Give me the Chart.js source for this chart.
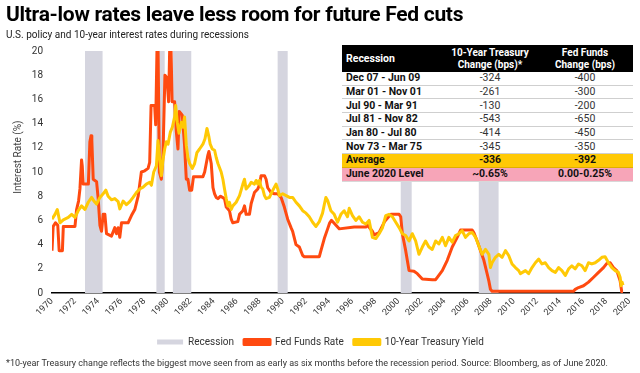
<!DOCTYPE html>
<html>
<head>
<meta charset="utf-8">
<script src="https://cdn.jsdelivr.net/npm/chart.js@4/dist/chart.umd.min.js"></script>
<style>
  html, body { margin:0; padding:0; background:#fff; }
  body { width:640px; height:373px; position:relative; overflow:hidden; font-family: Roboto, "Liberation Sans", sans-serif; }
  #c { position:absolute; left:0; top:0; }
  .title { position:absolute; left:6px; top:4px; font-size:21px; line-height:21px; font-weight:700; color:#000; letter-spacing:-0.3px; white-space:nowrap; }
  .subtitle { position:absolute; left:6px; top:30px; font-size:10px; line-height:10px; color:#222; white-space:nowrap; }
  .foot { position:absolute; left:6px; top:359px; font-size:9px; line-height:9px; color:#333; white-space:nowrap; }
  table { position:absolute; left:342px; top:45px; width:291px; border-collapse:collapse; background:#fff; font-size:10.5px; table-layout:fixed; }
  td, th { padding:0; white-space:nowrap; }
  thead th { background:#000; color:#fff; font-weight:700; height:27px; line-height:11.5px; text-align:center; font-size:10px; }
  thead th.first { text-align:left; padding-left:4px; font-size:10.5px; }
  tbody td { height:12.7px; line-height:12px; text-align:center; color:#333; border-bottom:1px solid #cfcfcf; }
  tbody td.first { text-align:left; padding-left:4px; font-weight:700; color:#111; }
  tr.avg td { background:#FFC905; font-weight:700; color:#111; border-bottom:1px solid #e0b000; }
  tr.lvl td { background:#F7A5B8; font-weight:700; color:#111; border-bottom:1px solid #d8d8d8; }
</style>
</head>
<body>
<canvas id="c" width="640" height="373"></canvas>
<div class="title">Ultra-low rates leave less room for future Fed cuts</div>
<div class="subtitle">U.S. policy and 10-year interest rates during recessions</div>
<table id="tbl">
  <colgroup><col style="width:101px"><col style="width:94px"><col style="width:96px"></colgroup>
  <thead><tr><th class="first">Recession</th><th>10-Year Treasury<br>Change (bps)*</th><th>Fed Funds<br>Change (bps)</th></tr></thead>
  <tbody id="tbody"></tbody>
</table>
<div class="foot">*10-year Treasury change reflects the biggest move seen from as early as six months before the recession period. Source: Bloomberg, as of June 2020.</div>
<script>
// ---- data (x values are positions on the chart's year axis) ----
const yearTicks = [1970,1972,1974,1976,1978,1980,1982,1984,1986,1988,1990,1992,1994,1996,1998,2000,2002,2004,2006,2008,2010,2012,2014,2016,2018,2020];

const recessionStarts = [1972.85, 1979.04, 1980.47, 1989.54, 2000.20, 2006.96];
const recessionEnds   = [1974.38, 1979.76, 1982.06, 1990.41, 2001.15, 2008.69];

const fedYears = [1970.00,1970.10,1970.30,1970.50,1970.62,1970.90,1970.98,1971.99,1972.13,1972.30,1972.42,1972.56,1972.62,1972.70,1973.15,1973.28,1973.38,1973.45,1973.57,1973.86,1974.00,1974.15,1974.29,1974.43,1974.58,1974.72,1975.15,1975.44,1975.58,1975.73,1975.87,1976.02,1976.59,1976.88,1977.17,1977.46,1977.74,1978.03,1978.32,1978.46,1978.58,1978.89,1978.98,1979.10,1979.18,1979.30,1979.47,1979.61,1979.78,1979.95,1980.10,1980.20,1980.30,1980.40,1980.62,1980.77,1980.91,1981.02,1981.28,1981.48,1981.63,1981.77,1981.92,1982.10,1982.25,1983.07,1983.22,1983.50,1983.59,1983.79,1983.94,1984.08,1984.22,1984.37,1984.60,1984.94,1985.09,1985.37,1985.52,1985.66,1986.09,1986.24,1986.53,1986.67,1986.81,1987.10,1987.25,1987.53,1987.82,1987.96,1988.11,1988.40,1988.54,1988.68,1988.97,1989.26,1989.55,1989.84,1990.12,1990.41,1990.70,1990.84,1991.13,1991.42,1991.71,1991.85,1993.15,1993.29,1993.58,1993.87,1994.05,1994.20,1994.40,1994.87,1996.17,1997.18,1997.32,1997.75,1997.90,1998.33,1998.80,1999.34,2000.06,2000.20,2000.34,2000.63,2000.92,2001.35,2001.64,2002.07,2002.93,2003.22,2003.37,2003.80,2004.23,2004.66,2005.09,2005.38,2006.39,2006.53,2006.82,2007.11,2007.40,2007.68,2007.83,2007.97,2008.11,2015.17,2015.31,2015.60,2016.03,2016.46,2016.90,2017.33,2017.76,2018.05,2018.34,2018.62,2018.91,2019.20,2019.34,2019.45];
const fedRates = [3.5,5.5,5.8,5.6,3.5,3.5,5.5,5.5,6.9,7.6,8.6,11.0,10.5,9.0,9.0,12.5,13.0,12.6,9.4,9.2,7.8,5.6,5.1,6.5,6.5,4.9,4.7,5.4,4.9,5.4,4.6,5.8,5.8,6.4,6.9,8.0,10.0,10.1,10.3,10.8,15.5,15.5,13.9,20.6,20.6,10.0,9.4,11.4,18.0,17.8,15.8,20.6,20.6,15.8,15.8,13.3,11.9,15.0,14.7,12.2,9.4,9.4,8.5,8.5,9.6,9.6,10.0,11.4,11.7,10.7,8.7,8.2,7.9,7.8,8.0,7.8,7.1,6.8,6.1,5.8,5.9,6.5,6.8,7.2,6.5,6.5,7.4,8.3,8.6,8.9,9.7,9.7,9.4,8.7,8.3,8.2,8.2,7.9,7.1,6.1,5.4,5.1,4.0,3.8,3.1,3.0,3.0,3.5,4.5,5.3,5.8,6.0,5.8,5.3,5.45,5.45,5.6,5.1,4.8,5.0,5.9,6.5,6.5,6.3,4.9,3.5,1.85,1.8,1.6,1.15,1.1,1.1,1.3,1.85,2.7,3.8,4.6,5.2,5.2,5.0,4.3,3.5,2.7,1.6,1.0,0.3,0.15,0.15,0.3,0.45,0.6,0.9,1.3,1.7,2.1,2.45,2.5,2.1,1.85,1.0,0.1,0.1];

const tsyYears = [1970.00,1970.26,1970.46,1970.69,1970.98,1971.41,1971.70,1971.99,1972.27,1972.56,1972.85,1973.14,1973.43,1973.63,1973.86,1974.15,1974.43,1974.66,1974.86,1975.15,1975.44,1975.73,1975.87,1976.16,1976.45,1976.74,1977.02,1977.31,1977.60,1977.89,1978.17,1978.46,1978.61,1978.81,1979.04,1979.18,1979.33,1979.47,1979.61,1979.76,1979.90,1980.05,1980.25,1980.42,1980.62,1980.71,1980.85,1981.00,1981.20,1981.34,1981.48,1981.63,1981.77,1981.92,1982.15,1982.35,1982.55,1982.78,1983.07,1983.25,1983.42,1983.59,1983.70,1983.88,1984.08,1984.22,1984.37,1984.65,1984.80,1984.94,1985.09,1985.23,1985.37,1985.52,1985.66,1985.95,1986.24,1986.53,1986.67,1986.81,1987.10,1987.25,1987.53,1987.68,1987.82,1987.96,1988.11,1988.25,1988.40,1988.54,1988.83,1988.97,1989.26,1989.40,1989.55,1989.69,1989.98,1990.27,1990.56,1990.84,1991.13,1991.42,1991.71,1992.00,1992.28,1992.57,1992.86,1993.15,1993.43,1993.60,1993.72,1993.87,1994.15,1994.44,1994.73,1995.02,1995.30,1995.59,1995.74,1996.02,1996.31,1996.60,1996.89,1997.18,1997.46,1997.75,1998.04,1998.33,1998.62,1998.90,1999.19,1999.48,1999.77,2000.06,2000.34,2000.63,2000.92,2001.20,2001.49,2001.78,2002.07,2002.35,2002.64,2002.93,2003.22,2003.50,2003.80,2004.08,2004.37,2004.66,2004.95,2005.24,2005.52,2005.81,2006.10,2006.39,2006.68,2006.96,2007.25,2007.54,2007.83,2007.97,2008.11,2008.40,2008.69,2008.98,2009.27,2009.55,2009.84,2010.13,2010.42,2010.56,2011.00,2011.28,2011.57,2011.86,2012.15,2012.43,2012.72,2013.01,2013.30,2013.59,2013.87,2014.16,2014.45,2014.74,2015.02,2015.31,2015.60,2015.89,2016.17,2016.46,2016.75,2017.04,2017.33,2017.62,2017.90,2018.19,2018.48,2018.77,2019.05,2019.20,2019.29,2019.37,2019.45];
const tsyYields = [6.1,6.5,6.9,5.8,6.05,6.25,6.5,6.25,6.8,7.2,6.9,7.5,7.9,7.6,7.35,7.9,8.2,8.5,8.0,7.7,7.8,7.55,6.95,7.6,7.3,7.55,7.9,8.3,8.6,8.75,9.0,9.15,8.9,10.0,10.5,12.6,11.1,9.7,11.0,11.9,12.5,12.3,13.3,13.7,14.55,15.5,14.1,13.2,14.1,13.7,14.55,12.2,11.2,10.7,10.3,10.7,11.6,11.9,12.3,12.75,13.6,12.9,12.3,11.9,11.8,11.2,10.7,10.0,9.4,8.6,7.8,7.2,7.5,6.9,7.2,7.5,8.05,9.0,9.4,8.6,8.9,9.15,9.0,9.3,9.0,9.3,8.75,8.6,8.05,7.8,7.9,8.2,8.75,9.0,8.6,8.05,8.2,8.05,7.9,7.9,7.5,7.2,6.8,6.6,6.3,5.85,5.5,5.9,6.6,7.4,7.9,7.65,6.8,6.5,5.85,6.5,6.8,6.3,7.0,6.4,6.0,6.3,5.85,5.7,6.0,4.6,4.5,4.9,5.4,6.4,6.5,6.3,5.85,5.4,4.9,4.75,4.3,4.9,4.3,3.2,3.8,4.3,3.8,3.6,4.3,4.05,4.6,3.9,4.6,4.2,4.75,4.9,5.15,4.6,4.9,5.0,4.6,3.9,3.2,3.6,3.2,2.1,2.5,2.95,3.2,2.95,3.5,3.1,2.4,2.1,1.85,1.6,1.85,1.6,2.1,2.5,2.8,2.4,2.5,2.1,1.85,1.7,2.1,1.85,1.45,2.0,2.25,2.0,2.4,2.25,1.85,2.5,2.4,2.5,2.7,2.95,3.0,2.5,2.1,1.85,1.7,1.3,0.6,0.9,0.65];

// table contents
const tableRecessions = ["Dec 07 - Jun 09","Mar 01 - Nov 01","Jul 90 - Mar 91","Jul 81 - Nov 82","Jan 80 - Jul 80","Nov 73 - Mar 75"];
const tableTreasuryChange = ["-324","-261","-130","-543","-414","-345"];
const tableFedChange = ["-400","-300","-200","-650","-450","-350"];
const averageRow = ["Average","-336","-392"];
const levelRow = ["June 2020 Level","~0.65%","0.00-0.25%"];

// ---- build table ----
const tb = document.getElementById('tbody');
function addRow(cells, cls) {
  const tr = document.createElement('tr');
  if (cls) tr.className = cls;
  cells.forEach((t, i) => {
    const td = document.createElement('td');
    td.textContent = t;
    if (i === 0) td.className = 'first';
    tr.appendChild(td);
  });
  tb.appendChild(tr);
}
tableRecessions.forEach((r, i) => addRow([r, tableTreasuryChange[i], tableFedChange[i]]));
addRow(averageRow, 'avg');
addRow(levelRow, 'lvl');

// ---- chart ----
const recessionPoints = [];
recessionStarts.forEach((s, i) => {
  recessionPoints.push({x:s, y:0}, {x:s, y:20}, {x:recessionEnds[i], y:20}, {x:recessionEnds[i], y:0});
});
const fedPoints = fedYears.map((x, i) => ({x, y: fedRates[i]}));
const tsyPoints = tsyYears.map((x, i) => ({x, y: tsyYields[i]}));

const RED = '#FF4A10', YEL = '#FFC905', GRAY = '#D5D5DF';
const FONT = 'Roboto, "Liberation Sans", sans-serif';

new Chart(document.getElementById('c'), {
  type: 'line',
  data: {
    datasets: [
      { label:'Recession', data: recessionPoints, fill:'origin', backgroundColor:GRAY, borderColor:GRAY, borderWidth:0, pointRadius:0, tension:0, order:3 },
      { label:'Fed Funds Rate', data: fedPoints, borderColor:RED, backgroundColor:RED, borderWidth:3, pointRadius:0, fill:false, tension:0, order:2, borderJoinStyle:'round' },
      { label:'10-Year Treasury Yield', data: tsyPoints, borderColor:YEL, backgroundColor:YEL, borderWidth:3, pointRadius:0, fill:false, tension:0, order:1, borderJoinStyle:'round' }
    ]
  },
  options: {
    responsive:false, animation:false, devicePixelRatio:1,
    layout: { padding: { top:51, right:9, bottom:16, left:10 } },
    scales: {
      x: {
        type:'linear', min:1970, max:2020,
        grid:{ display:false, drawTicks:false },
        border:{ display:true, color:'#000', width:1.5 },
        afterBuildTicks: s => { s.ticks = yearTicks.map(v => ({value:v})); },
        afterFit: s => { s.height = 34; },
        ticks:{ autoSkip:false, maxRotation:45, minRotation:45, padding:3, color:'#333', font:{family:FONT, size:9}, callback: v => String(v) }
      },
      y: {
        min:0, max:20,
        grid:{ display:false, drawTicks:false },
        border:{ display:false },
        afterFit: s => { s.width = 42; },
        ticks:{ stepSize:2, padding:9, color:'#333', font:{family:FONT, size:10} },
        title:{ display:true, text:'            Interest Rate (%)', color:'#444', font:{family:FONT, size:10}, padding:{top:2, bottom:0} }
      }
    },
    plugins: {
      legend: {
        position:'bottom',
        labels:{ boxWidth:26, boxHeight:5, padding:10, color:'#333', font:{family:FONT, size:10},
                 sort:(a, b) => a.datasetIndex - b.datasetIndex }
      },
      tooltip:{ enabled:false }
    }
  }
});
</script>
</body>
</html>
